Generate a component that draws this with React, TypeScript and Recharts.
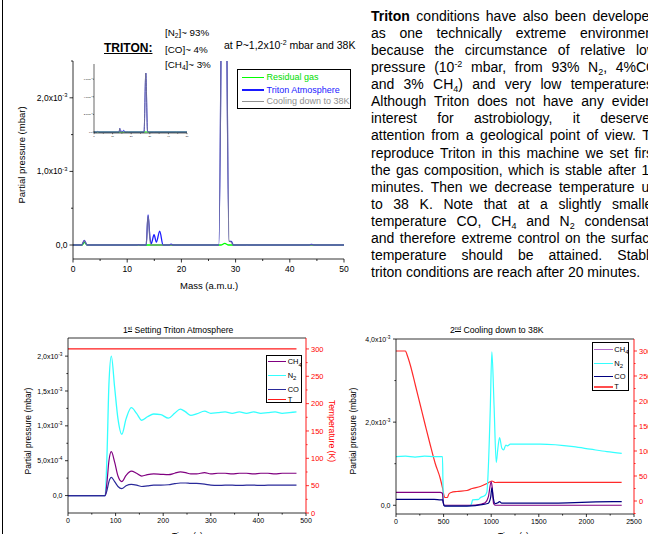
import type { ReactNode } from 'react';
import { LineChart, Line, XAxis, YAxis } from 'recharts';

const FONT = '"Liberation Sans", Arial, Helvetica, sans-serif';

// mass spectrum: partial pressure (10^-3 mbar) against mass (a.m.u.)
const residualMass = [0, 1.7, 2.1, 2.6, 27.3, 28.0, 28.7, 31.8, 32.1, 32.4, 50];
const residualGas = [0, 0, 0.035, 0, 0, 0.022, 0, 0, 0.006, 0, 0];

const tritonMass = [0, 1.6, 2.08, 2.6, 11.8, 12.1, 12.4, 13.5, 13.85, 14.2, 14.45, 14.95, 15.38, 16.0, 16.6, 17.7, 18.1, 18.5, 26.9, 27.85, 28.8, 29.2, 29.6, 43.6, 44, 44.4, 50];
const tritonAtmosphere = [0, 0, 0.063, 0, 0, 0.006, 0, 0, 0.41, 0.1, 0.02, 0.14, 0.04, 0.19, 0, 0, 0.012, 0, 0, 6.7, 0.05, 0.05, 0, 0, 0.01, 0, 0];

const coolingMass = [0, 1.6, 2.08, 2.6, 13.5, 13.85, 14.3, 26.9, 27.85, 28.8, 29.2, 29.6, 50];
const coolingDown = [0, 0, 0.06, 0, 0, 0.4, 0, 0, 6.7, 0.05, 0.04, 0, 0];

// 1st: setting Triton atmosphere. time (s), pressure (10^-3 mbar), T (K)
const settingTime = [0, 78, 82, 86, 91, 98, 105, 113, 122, 133, 144, 155, 167, 180, 195, 211, 224, 236, 247, 258, 270, 287, 300, 315, 330, 345, 360, 375, 390, 405, 420, 435, 450, 465, 480];
const settingN2 = [0, 0, 0.6, 1.6, 2.0, 1.55, 1.1, 0.88, 1.1, 1.26, 1.18, 1.08, 1.13, 1.17, 1.16, 1.11, 1.18, 1.24, 1.2, 1.15, 1.17, 1.21, 1.18, 1.19, 1.2, 1.18, 1.2, 1.18, 1.2, 1.18, 1.19, 1.2, 1.18, 1.19, 1.2];
const settingCH4 = [0, 0, 0.2, 0.5, 0.63, 0.48, 0.28, 0.2, 0.29, 0.35, 0.32, 0.28, 0.3, 0.31, 0.305, 0.3, 0.32, 0.34, 0.33, 0.31, 0.31, 0.33, 0.31, 0.32, 0.32, 0.31, 0.32, 0.32, 0.31, 0.32, 0.32, 0.31, 0.32, 0.32, 0.32];
const settingCO = [0, 0, 0.08, 0.2, 0.26, 0.2, 0.13, 0.1, 0.14, 0.16, 0.15, 0.13, 0.14, 0.15, 0.15, 0.155, 0.17, 0.18, 0.18, 0.175, 0.175, 0.165, 0.15, 0.145, 0.15, 0.15, 0.145, 0.15, 0.15, 0.145, 0.15, 0.15, 0.15, 0.15, 0.15];
const settingTTime = [0, 480];
const settingT = [300, 300];

// 2nd: cooling down to 38K
const coolTTime = [0, 100, 115, 150, 203, 255, 307, 360, 412, 465, 490, 505, 515, 540, 555, 580, 640, 745, 800, 885, 955, 1007, 1042, 1100, 2370];
const coolT = [300, 300, 293, 272, 232, 192, 152, 112, 75, 45, 25, 10, 7, 7, 14, 17, 19, 21, 25, 29, 35, 40, 37, 37.3, 37.3];
const coolN2Time = [0, 100, 200, 300, 400, 488, 493, 500, 520, 780, 795, 805, 868, 885, 937, 955, 968, 990, 1007, 1030, 1053, 1070, 1088, 1112, 1130, 1154, 1172, 1200, 1515, 1865, 2040, 2215, 2371];
const coolN2 = [1.17, 1.18, 1.16, 1.18, 1.17, 1.17, 0.6, 0.0, -0.01, -0.01, 0.05, 0.13, 0.14, 0.18, 0.24, 0.32, 0.8, 2.3, 3.69, 2.4, 1.03, 1.37, 1.63, 1.37, 1.33, 1.45, 1.43, 1.47, 1.47, 1.41, 1.35, 1.29, 1.25];
const coolCH4Time = [0, 200, 400, 465, 488, 495, 505, 780, 900, 937, 970, 1000, 1012, 1025, 1042, 2371];
const coolCH4 = [0.31, 0.31, 0.31, 0.31, 0.29, 0.1, 0.0, 0.0, 0.03, 0.06, 0.2, 0.57, 0.4, 0.04, 0.0, 0.0];
const coolCOTime = [0, 200, 400, 470, 490, 497, 510, 745, 920, 970, 995, 1007, 1020, 1040, 1070, 1088, 1110, 1200, 1500, 1800, 2100, 2371];
const coolCO = [0.14, 0.14, 0.14, 0.13, 0.13, 0.05, -0.02, -0.02, 0.02, 0.05, 0.2, 0.42, 0.2, 0.04, 0.06, 0.09, 0.05, 0.05, 0.05, 0.06, 0.08, 0.09];

// ticks (labelled ones listed in the label arrays, the rest are minor)
type Lab = { v: number; m: string; e?: string };
const specXTicks = [0, 5, 10, 15, 20, 25, 30, 35, 40, 45, 50];
const specXLabels: Lab[] = [0, 10, 20, 30, 40, 50].map((v) => ({ v, m: String(v) }));
const specYTicks = [0, 0.5, 1, 1.5, 2, 2.5];
const specYLabels: Lab[] = [{ v: 0, m: '0,0' }, { v: 1, m: '1,0x10', e: '-3' }, { v: 2, m: '2,0x10', e: '-3' }];
const insetYTicks = [0, 2, 4, 6];
const insetYLabels: Lab[] = [{ v: 0, m: '0,0' }, { v: 2, m: '2,0x10', e: '-3' }, { v: 4, m: '4,0x10', e: '-3' }, { v: 6, m: '6,0x10', e: '-3' }];

const setXTicks = [0, 50, 100, 150, 200, 250, 300, 350, 400, 450, 500];
const setXLabels: Lab[] = [0, 100, 200, 300, 400, 500].map((v) => ({ v, m: String(v) }));
const setYTicks = [0, 0.25, 0.5, 0.75, 1, 1.25, 1.5, 1.75, 2];
const setYLabels: Lab[] = [{ v: 0, m: '0,0' }, { v: 0.5, m: '5,0x10', e: '-4' }, { v: 1, m: '1,0x10', e: '-3' }, { v: 1.5, m: '1,5x10', e: '-3' }, { v: 2, m: '2,0x10', e: '-3' }];
const setTTicks = [0, 25, 50, 75, 100, 125, 150, 175, 200, 225, 250, 275, 300];
const tempLabels: Lab[] = [0, 50, 100, 150, 200, 250, 300].map((v) => ({ v, m: String(v) }));

const coolXTicks = [0, 250, 500, 750, 1000, 1250, 1500, 1750, 2000, 2250, 2500];
const coolXLabels: Lab[] = [0, 500, 1000, 1500, 2000, 2500].map((v) => ({ v, m: String(v) }));
const coolYTicks = [0, 1, 2, 3, 4];
const coolYLabels: Lab[] = [{ v: 0, m: '0,0' }, { v: 2, m: '2,0x10', e: '-3' }, { v: 4, m: '4,0x10', e: '-3' }];
const coolTTicks = [-25, 0, 25, 50, 75, 100, 125, 150, 175, 200, 225, 250, 275, 300];

const pts = (xs: number[], ys: number[]) => xs.map((x, i) => ({ x, y: ys[i] }));

type Side = 'left' | 'right' | 'bottom' | 'top';

function makeTick(side: Side, labels: Lab[], size: number, color = '#000', major = 3, minor = 1.6, gap = 2, sw = 0.8) {
  return (props: any) => {
    const { x, y, payload } = props;
    const lab = labels.find((l) => Math.abs(l.v - payload.value) < 1e-6);
    const len = lab ? major : minor;
    const txt = { fill: color, fontSize: size, fontFamily: FONT };
    const body = lab ? (
      <>
        {lab.m}
        {lab.e ? (
          <tspan dy={-size * 0.42} fontSize={size * 0.68}>
            {lab.e}
          </tspan>
        ) : null}
      </>
    ) : null;
    if (side === 'left') {
      return (
        <g>
          <line x1={x - len} x2={x} y1={y} y2={y} stroke={color} strokeWidth={sw} />
          {lab ? <text x={x - major - gap} y={y + size * 0.36} textAnchor="end" {...txt}>{body}</text> : null}
        </g>
      );
    }
    if (side === 'right') {
      return (
        <g>
          <line x1={x} x2={x + len} y1={y} y2={y} stroke={color} strokeWidth={sw} />
          {lab ? <text x={x + major + gap} y={y + size * 0.36} textAnchor="start" {...txt}>{body}</text> : null}
        </g>
      );
    }
    if (side === 'bottom') {
      return (
        <g>
          <line x1={x} x2={x} y1={y} y2={y + len} stroke={color} strokeWidth={sw} />
          {lab ? <text x={x} y={y + major + gap + size * 0.75} textAnchor="middle" {...txt}>{body}</text> : null}
        </g>
      );
    }
    return (
      <g>
        <line x1={x} x2={x} y1={y - len} y2={y} stroke={color} strokeWidth={sw} />
      </g>
    );
  };
}

const axisCommon = { tickSize: 0, tickMargin: 0, interval: 0 as const, allowDataOverflow: true };

function Abs({ left, top, children, style }: { left: number; top: number; children: ReactNode; style?: any }) {
  return <div style={{ position: 'absolute', left, top, whiteSpace: 'nowrap', ...style }}>{children}</div>;
}

function VText({ x, y, size, color = '#000', angle = -90, children }: { x: number; y: number; size: number; color?: string; angle?: number; children: ReactNode }) {
  return (
    <div
      style={{
        position: 'absolute',
        left: x,
        top: y,
        transform: `translate(-50%, -50%) rotate(${angle}deg)`,
        fontSize: size,
        color,
        whiteSpace: 'nowrap',
        lineHeight: 1,
      }}
    >
      {children}
    </div>
  );
}

const Sub = ({ children, size = 6, drop = 2 }: { children: ReactNode; size?: number; drop?: number }) => (
  <span style={{ fontSize: size, position: 'relative', top: drop, lineHeight: 0 }}>{children}</span>
);
const Sup = ({ children, size = 6, rise = 4 }: { children: ReactNode; size?: number; rise?: number }) => (
  <span style={{ fontSize: size, position: 'relative', top: -rise, lineHeight: 0 }}>{children}</span>
);

type Row = { color: string; label: ReactNode; y: number; w?: number };
function LegendBox({ left, top, width, height, rows, lineX, lineW, textX, size, border = 1 }: { left: number; top: number; width: number; height: number; rows: Row[]; lineX: number; lineW: number; textX: number; size: number; border?: number }) {
  return (
    <div style={{ position: 'absolute', left, top, width, height, border: `${border}px solid #000`, boxSizing: 'border-box', background: '#fff' }}>
      {rows.map((r, i) => (
        <div key={i}>
          <div style={{ position: 'absolute', left: lineX, top: r.y - (r.w ?? 1.5) / 2, width: lineW, height: r.w ?? 1.5, background: r.color }} />
          <div style={{ position: 'absolute', left: textX, top: r.y - size * 0.6, fontSize: size, lineHeight: `${size * 1.2}px`, color: '#000', whiteSpace: 'nowrap' }}>{r.label}</div>
        </div>
      ))}
    </div>
  );
}

const paragraph: { text: ReactNode; last?: boolean }[] = [
  { text: <><b>Triton</b> conditions have also been developed</> },
  { text: <>as one technically extreme environment</> },
  { text: <>because the circumstance of relative low</> },
  { text: <>pressure (10<Sup size={9} rise={5}>-2</Sup> mbar, from 93% N<Sub size={9} drop={3}>2</Sub>, 4%CO</> },
  { text: <>and 3% CH<Sub size={9} drop={3}>4</Sub>) and very low temperatures.</> },
  { text: <>Although Triton does not have any evident</> },
  { text: <>interest for astrobiology, it deserves</> },
  { text: <>attention from a geological point of view. To</> },
  { text: <>reproduce Triton in this machine we set first</> },
  { text: <>the gas composition, which is stable after 10</> },
  { text: <>minutes. Then we decrease temperature up</> },
  { text: <>to 38 K. Note that at a slightly smaller</> },
  { text: <>temperature CO, CH<Sub size={9} drop={3}>4</Sub> and N<Sub size={9} drop={3}>2</Sub> condensate</> },
  { text: <>and therefore extreme control on the surface</> },
  { text: <>temperature should be attained. Stable</> },
  { text: <>triton conditions are reach after 20 minutes.</>, last: true },
];

const lineProps = { type: 'monotone' as const, dataKey: 'y', dot: false, isAnimationActive: false, activeDot: false };

export default function App() {
  return (
    <div style={{ position: 'fixed', left: 0, top: 0, width: 648, height: 534, overflow: 'hidden', background: '#fff', fontFamily: FONT, color: '#000' }}>
      <div style={{ position: 'absolute', left: 2, top: 0, width: 1, height: 534, background: '#000' }} />

      {/* spectrum */}
      <Abs left={0} top={0}>
        <LineChart width={360} height={300} margin={{ top: 61, right: 16, left: 0, bottom: 0 }}>
          <XAxis dataKey="x" type="number" domain={[0, 50]} ticks={specXTicks} height={41} axisLine={{ stroke: '#000', strokeWidth: 0.8 }} tick={makeTick('bottom', specXLabels, 8.5, '#000', 3.5, 2, 3)} {...axisCommon} />
          <YAxis type="number" domain={[-0.19, 2.5]} ticks={specYTicks} width={73} axisLine={{ stroke: '#000', strokeWidth: 0.8 }} tick={makeTick('left', specYLabels, 8.5, '#000', 3.5, 2, 2)} {...axisCommon} />
          <Line {...lineProps} data={pts(residualMass, residualGas)} stroke="#00ff00" strokeWidth={1.3} />
          <Line {...lineProps} data={pts(tritonMass, tritonAtmosphere)} stroke="#1a1aff" strokeWidth={1.3} />
          <Line {...lineProps} data={pts(coolingMass, coolingDown)} stroke="#808080" strokeOpacity={0.75} strokeWidth={1.3} />
        </LineChart>
      </Abs>

      {/* inset */}
      <Abs left={80} top={55}>
        <LineChart width={110} height={85} margin={{ top: 9, right: 3, left: 0, bottom: 0 }}>
          <XAxis dataKey="x" type="number" domain={[0, 50]} ticks={specXTicks} height={7} axisLine={{ stroke: '#000', strokeWidth: 0.6 }} tick={makeTick('bottom', specXLabels, 2.4, '#000', 1.2, 0.7, 0.5, 0.5)} {...axisCommon} />
          <YAxis type="number" domain={[-0.11, 7.73]} ticks={insetYTicks} width={14} axisLine={{ stroke: '#000', strokeWidth: 0.6 }} tick={makeTick('left', insetYLabels, 2.4, '#000', 1.2, 0.7, 0.5, 0.5)} {...axisCommon} />
          <Line {...lineProps} data={pts(residualMass, residualGas)} stroke="#00ff00" strokeWidth={1} />
          <Line {...lineProps} data={pts(tritonMass, tritonAtmosphere)} stroke="#1a1aff" strokeWidth={1} />
          <Line {...lineProps} data={pts(coolingMass, coolingDown)} stroke="#808080" strokeOpacity={0.8} strokeWidth={1} />
        </LineChart>
      </Abs>

      <VText x={22} y={155} size={9.5}>Partial pressure (mbar)</VText>
      <Abs left={180} top={280} style={{ fontSize: 9.5 }}>Mass (a.m.u.)</Abs>

      <Abs left={104} top={41} style={{ fontSize: 12, fontWeight: 'bold', textDecoration: 'underline', lineHeight: '14px' }}>TRITON:</Abs>
      <Abs left={165} top={27} style={{ fontSize: 9.8, lineHeight: '12px' }}>[N<Sub size={6.5} drop={2}>2</Sub>]~ 93%</Abs>
      <Abs left={165} top={44} style={{ fontSize: 9.8, lineHeight: '12px' }}>[CO]~ 4%</Abs>
      <Abs left={165} top={59} style={{ fontSize: 9.8, lineHeight: '12px' }}>[CH<Sub size={6.5} drop={2}>4</Sub>]~ 3%</Abs>
      <Abs left={224} top={39} style={{ fontSize: 10.5, lineHeight: '13px' }}>at P~1,2x10<Sup size={7} rise={4}>-2</Sup> mbar and 38K</Abs>

      <LegendBox
        left={237}
        top={69}
        width={114}
        height={40}
        lineX={4}
        lineW={22}
        textX={28.5}
        size={9}
        rows={[
          { color: '#00ff00', label: <span style={{ color: '#00dd00' }}>Residual gas</span>, y: 7.7 },
          { color: '#1a1aff', label: <span style={{ color: '#1a1aff' }}>Triton Atmosphere</span>, y: 20 },
          { color: '#909090', label: <span style={{ color: '#909090' }}>Cooling down to 38K</span>, y: 31.5 },
        ]}
      />

      {/* paragraph */}
      <div style={{ position: 'absolute', left: 371, top: 7.5, width: 286, fontSize: 14 }}>
        {paragraph.map((l, i) => (
          <div key={i} style={{ height: 17.13, lineHeight: '17.13px', textAlign: l.last ? 'left' : 'justify', textAlignLast: l.last ? 'left' : 'justify' } as any}>
            {l.text}
          </div>
        ))}
      </div>

      {/* 1st setting */}
      <Abs left={123} top={325} style={{ fontSize: 8.6, lineHeight: '11px' }}>
        1<Sup size={5.5} rise={3}><span style={{ textDecoration: 'underline' }}>st</span></Sup> Setting Triton Atmosphere
      </Abs>
      <Abs left={0} top={320}>
        <LineChart width={350} height={230} margin={{ top: 0, right: 0, left: 0, bottom: 0 }}>
          <XAxis dataKey="x" type="number" domain={[0, 500]} ticks={setXTicks} height={37} axisLine={{ stroke: '#000', strokeWidth: 0.8 }} tick={makeTick('bottom', setXLabels, 7)} {...axisCommon} />
          <XAxis xAxisId="top" orientation="top" type="number" domain={[0, 500]} ticks={setXTicks} height={18} axisLine={{ stroke: '#000', strokeWidth: 0.8 }} tick={makeTick('top', [], 7, '#000', 3, 3)} {...axisCommon} />
          <YAxis yAxisId="p" type="number" domain={[-0.25, 2.26]} ticks={setYTicks} width={68} axisLine={{ stroke: '#000', strokeWidth: 0.8 }} tick={makeTick('left', setYLabels, 7, '#000', 3, 1.6, 2.5)} {...axisCommon} />
          <YAxis yAxisId="t" orientation="right" type="number" domain={[0, 320]} ticks={setTTicks} width={44} axisLine={{ stroke: '#ff0000', strokeWidth: 0.9 }} tick={makeTick('right', tempLabels, 7.5, '#ff0000', 3, 1.6, 2)} {...axisCommon} />
          <Line {...lineProps} yAxisId="t" data={pts(settingTTime, settingT)} stroke="#ff1a1a" strokeWidth={1.2} />
          <Line {...lineProps} yAxisId="p" data={pts(settingTime, settingN2)} stroke="#33ffff" strokeWidth={1.3} />
          <Line {...lineProps} yAxisId="p" data={pts(settingTime, settingCH4)} stroke="#800080" strokeWidth={1.2} />
          <Line {...lineProps} yAxisId="p" data={pts(settingTime, settingCO)} stroke="#2a2a9a" strokeWidth={1.2} />
        </LineChart>
      </Abs>
      <VText x={28} y={431} size={8.5}>Partial pressure (mbar)</VText>
      <VText x={332} y={431} size={8.6} color="#ff0000" angle={90}>Temperature (K)</VText>
      <Abs left={172} top={531} style={{ fontSize: 8.5, lineHeight: '10px' }}>Time (s)</Abs>
      <LegendBox
        left={265.7}
        top={355}
        width={36}
        height={48}
        lineX={1}
        lineW={18.3}
        textX={21}
        size={7.5}
        border={1.3}
        rows={[
          { color: '#800080', label: <>CH<Sub size={6} drop={2.5}>4</Sub></>, y: 5.7 },
          { color: '#33ffff', label: <>N<Sub size={6} drop={2.5}>2</Sub></>, y: 19.3 },
          { color: '#2a2a9a', label: 'CO', y: 33.3 },
          { color: '#ff1a1a', label: 'T', y: 43.7 },
        ]}
      />

      {/* 2nd cooling */}
      <Abs left={450} top={325} style={{ fontSize: 8.7, lineHeight: '11px' }}>
        2<Sup size={5.5} rise={3}><span style={{ textDecoration: 'underline' }}>nd</span></Sup> Cooling down to 38K
      </Abs>
      <Abs left={340} top={320}>
        <LineChart width={340} height={230} margin={{ top: 0, right: 0, left: 0, bottom: 0 }}>
          <XAxis dataKey="x" type="number" domain={[0, 2500]} ticks={coolXTicks} height={36} axisLine={{ stroke: '#000', strokeWidth: 0.8 }} tick={makeTick('bottom', coolXLabels, 7)} {...axisCommon} />
          <XAxis xAxisId="top" orientation="top" type="number" domain={[0, 2500]} ticks={coolXTicks} height={19} axisLine={{ stroke: '#000', strokeWidth: 0.8 }} tick={makeTick('top', [], 7, '#000', 3, 3)} {...axisCommon} />
          <YAxis yAxisId="p" type="number" domain={[-0.21, 4.0]} ticks={coolYTicks} width={56} axisLine={{ stroke: '#000', strokeWidth: 0.8 }} tick={makeTick('left', coolYLabels, 7, '#000', 3, 1.6, 2.5)} {...axisCommon} />
          <YAxis yAxisId="t" orientation="right" type="number" domain={[-26, 324]} ticks={coolTTicks} width={46} axisLine={{ stroke: '#ff0000', strokeWidth: 0.9 }} tick={makeTick('right', tempLabels, 7.5, '#ff0000', 3, 1.6, 2)} {...axisCommon} />
          <Line {...lineProps} yAxisId="t" data={pts(coolTTime, coolT)} stroke="#ff2a2a" strokeWidth={1.2} />
          <Line {...lineProps} yAxisId="p" data={pts(coolN2Time, coolN2)} stroke="#33ffff" strokeWidth={1.2} />
          <Line {...lineProps} yAxisId="p" data={pts(coolCH4Time, coolCH4)} stroke="#800080" strokeWidth={1.2} />
          <Line {...lineProps} yAxisId="p" data={pts(coolCOTime, coolCO)} stroke="#000080" strokeWidth={1.2} />
        </LineChart>
      </Abs>
      <VText x={353} y={431} size={8.5}>Partial pressure (mbar)</VText>
      <Abs left={498} top={531} style={{ fontSize: 8.5, lineHeight: '10px' }}>Time (s)</Abs>
      <LegendBox
        left={591.7}
        top={341.7}
        width={37}
        height={49.5}
        lineX={1}
        lineW={19}
        textX={21.6}
        size={7.5}
        border={1.3}
        rows={[
          { color: '#b46ccc', label: <>CH<Sub size={6} drop={2.5}>4</Sub></>, y: 6.6 },
          { color: '#33ffff', label: <>N<Sub size={6} drop={2.5}>2</Sub></>, y: 20.6 },
          { color: '#000080', label: 'CO', y: 34 },
          { color: '#ff4d4d', label: 'T', y: 44.3, w: 2 },
        ]}
      />
    </div>
  );
}
